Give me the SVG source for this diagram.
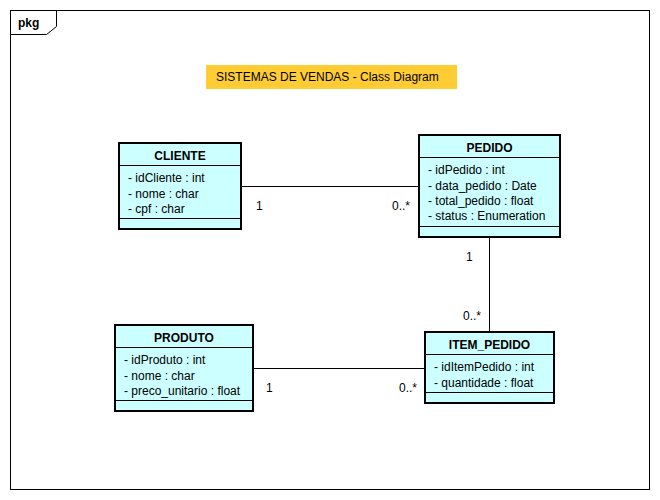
<svg xmlns="http://www.w3.org/2000/svg" width="660" height="500" viewBox="0 0 660 500">
<style>
text{font-family:"Liberation Sans",Arial,sans-serif;font-size:12px;fill:#000}
.cls{fill:#CCFFFF;stroke:#000;stroke-width:2}
.sep{stroke:#000;stroke-width:1}
.ttl{font-weight:bold;text-anchor:middle}
.conn line{stroke:#000;stroke-width:1}
</style>
<rect x="0" y="0" width="660" height="500" fill="#fff"/>
<g id="frame">
<rect x="10.5" y="10.5" width="639" height="479" fill="none" stroke="#000"/>
<path d="M10.5 34.5 H46.5 L56.5 26.5 V10.5" fill="none" stroke="#000"/>
<text x="18" y="27" style="font-weight:bold">pkg</text>
</g>
<g id="title">
<rect x="206" y="65" width="251" height="24" fill="#FFCC33"/>
<text x="216" y="81">SISTEMAS DE VENDAS - Class Diagram</text>
</g>
<g class="conn" id="connectors">
<line x1="241" y1="186.5" x2="419" y2="186.5"/>
<line x1="489.5" y1="237" x2="489.5" y2="332"/>
<line x1="253" y1="368.5" x2="425" y2="368.5"/>
<text x="256" y="210">1</text>
<text x="392" y="210">0..*</text>
<text x="466" y="261">1</text>
<text x="463" y="320">0..*</text>
<text x="266" y="392">1</text>
<text x="399" y="392">0..*</text>
</g>
<g id="CLIENTE">
<rect class="cls" x="119" y="143" width="122" height="86"/>
<line class="sep" x1="119" y1="165.5" x2="241" y2="165.5"/>
<line class="sep" x1="119" y1="218.5" x2="241" y2="218.5"/>
<text class="ttl" x="180" y="160">CLIENTE</text>
<text x="128" y="182">- idCliente : int</text>
<text x="128" y="198">- nome : char</text>
<text x="128" y="213">- cpf : char</text>
</g>
<g id="PEDIDO">
<rect class="cls" x="419" y="135" width="141" height="102"/>
<line class="sep" x1="419" y1="157.5" x2="560" y2="157.5"/>
<line class="sep" x1="419" y1="226.5" x2="560" y2="226.5"/>
<text class="ttl" x="489.5" y="152">PEDIDO</text>
<text x="428" y="174">- idPedido : int</text>
<text x="428" y="190">- data_pedido : Date</text>
<text x="428" y="205">- total_pedido : float</text>
<text x="428" y="220">- status : Enumeration</text>
</g>
<g id="PRODUTO">
<rect class="cls" x="115" y="325" width="138" height="86"/>
<line class="sep" x1="115" y1="347.5" x2="253" y2="347.5"/>
<line class="sep" x1="115" y1="400.5" x2="253" y2="400.5"/>
<text class="ttl" x="184" y="342">PRODUTO</text>
<text x="124" y="364">- idProduto : int</text>
<text x="124" y="380">- nome : char</text>
<text x="124" y="395">- preco_unitario : float</text>
</g>
<g id="ITEM_PEDIDO">
<rect class="cls" x="425" y="332" width="129" height="71"/>
<line class="sep" x1="425" y1="354.5" x2="554" y2="354.5"/>
<line class="sep" x1="425" y1="392.5" x2="554" y2="392.5"/>
<text class="ttl" x="489.5" y="349">ITEM_PEDIDO</text>
<text x="434" y="371">- idItemPedido : int</text>
<text x="434" y="387">- quantidade : float</text>
</g>
</svg>
